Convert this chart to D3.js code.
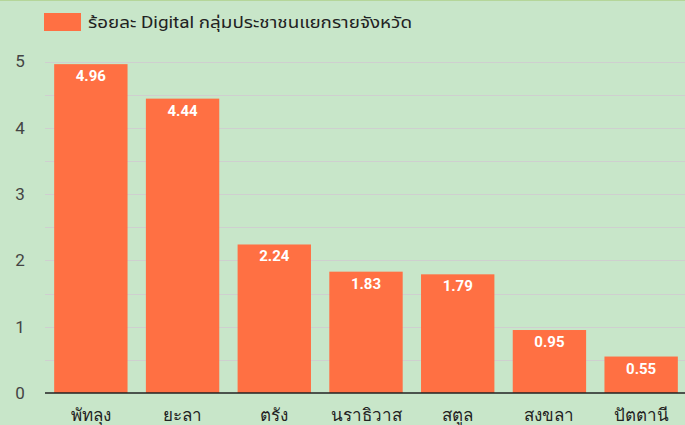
<!DOCTYPE html>
<html><head><meta charset="utf-8">
<script src="https://cdn.jsdelivr.net/npm/d3@7"></script>
<style>
html,body{margin:0;padding:0;background:#c8e6c9;}
svg{display:block;font-family:Roboto,"Noto Sans","Noto Sans Thai",sans-serif;}
</style></head>
<body>
<svg id="chart" width="685" height="425"></svg>
<script>
const categories = ["พัทลุง","ยะลา","ตรัง","นราธิวาส","สตูล","สงขลา","ปัตตานี"];
const values = [4.96,4.44,2.24,1.83,1.79,0.95,0.55];
const yTicks = [0,1,2,3,4,5];
const legendLabel = "ร้อยละ Digital กลุ่มประชาชนแยกรายจังหวัด";

const svg = d3.select("#chart");
const W = 685, H = 425;
svg.append("rect").attr("width",W).attr("height",H).attr("fill","#c8e6c9");
svg.append("line").attr("x1",0).attr("x2",W).attr("y1",0.5).attr("y2",0.5).attr("stroke","#b5d69a").attr("stroke-width",1);

const x0 = 45, x1 = 687, yBase = 393, yTop = 61.5;
const x = d3.scaleBand().domain(categories).range([x0,x1]).paddingInner(0.2).paddingOuter(0.1);
const y = d3.scaleLinear().domain([0,5]).range([yBase,yTop]);

// gridlines (major + minor)
const grid = d3.range(0.5,5.01,0.5);
svg.append("g").selectAll("line").data(grid).join("line")
  .attr("x1",x0).attr("x2",x1)
  .attr("y1",d=>Math.round(y(d))+0.5).attr("y2",d=>Math.round(y(d))+0.5)
  .attr("stroke","#cfcfcf").attr("stroke-width",1.2);

// y tick labels
const yAxis = d3.axisLeft(y).tickValues(yTicks).tickSize(0).tickPadding(0).tickFormat(d3.format("d"));
const ga = svg.append("g").attr("transform",`translate(20,0)`).call(yAxis);
ga.select(".domain").remove();
ga.selectAll("text").attr("font-size",17).attr("fill","#444").attr("text-anchor","middle").attr("font-family","Roboto,sans-serif");

// bars
svg.append("g").selectAll("rect").data(values).join("rect")
  .attr("x",(d,i)=>x(categories[i]))
  .attr("width",x.bandwidth())
  .attr("y",d=>y(d))
  .attr("height",d=>yBase-y(d))
  .attr("fill","#ff7043");

// value labels
svg.append("g").selectAll("text").data(values).join("text")
  .attr("x",(d,i)=>x(categories[i])+x.bandwidth()/2)
  .attr("y",d=>y(d)+17)
  .attr("text-anchor","middle")
  .attr("font-size",15).attr("font-weight","bold").attr("fill","#fff")
  .text(d=>d.toFixed(2));

// baseline
svg.append("line").attr("x1",x0).attr("x2",x1).attr("y1",yBase).attr("y2",yBase).attr("stroke","#222").attr("stroke-width",1.5);

// x axis labels
const xAxis = d3.axisBottom(x).tickSize(0).tickPadding(0);
const gx = svg.append("g").attr("transform",`translate(0,${yBase+16})`).call(xAxis);
gx.select(".domain").remove();
gx.selectAll("text").attr("font-size",17).attr("fill","#222").attr("dy","0.71em").attr("font-family","Roboto,\"Noto Sans\",sans-serif");

// legend
svg.append("rect").attr("x",44).attr("y",13).attr("width",37).attr("height",18).attr("fill","#ff7043");
svg.append("text").attr("x",88).attr("y",22).attr("dy","0.35em").attr("font-size",16)
  .attr("textLength",324).attr("lengthAdjust","spacingAndGlyphs")
  .attr("fill","#222").text(legendLabel);
</script>
</body></html>
